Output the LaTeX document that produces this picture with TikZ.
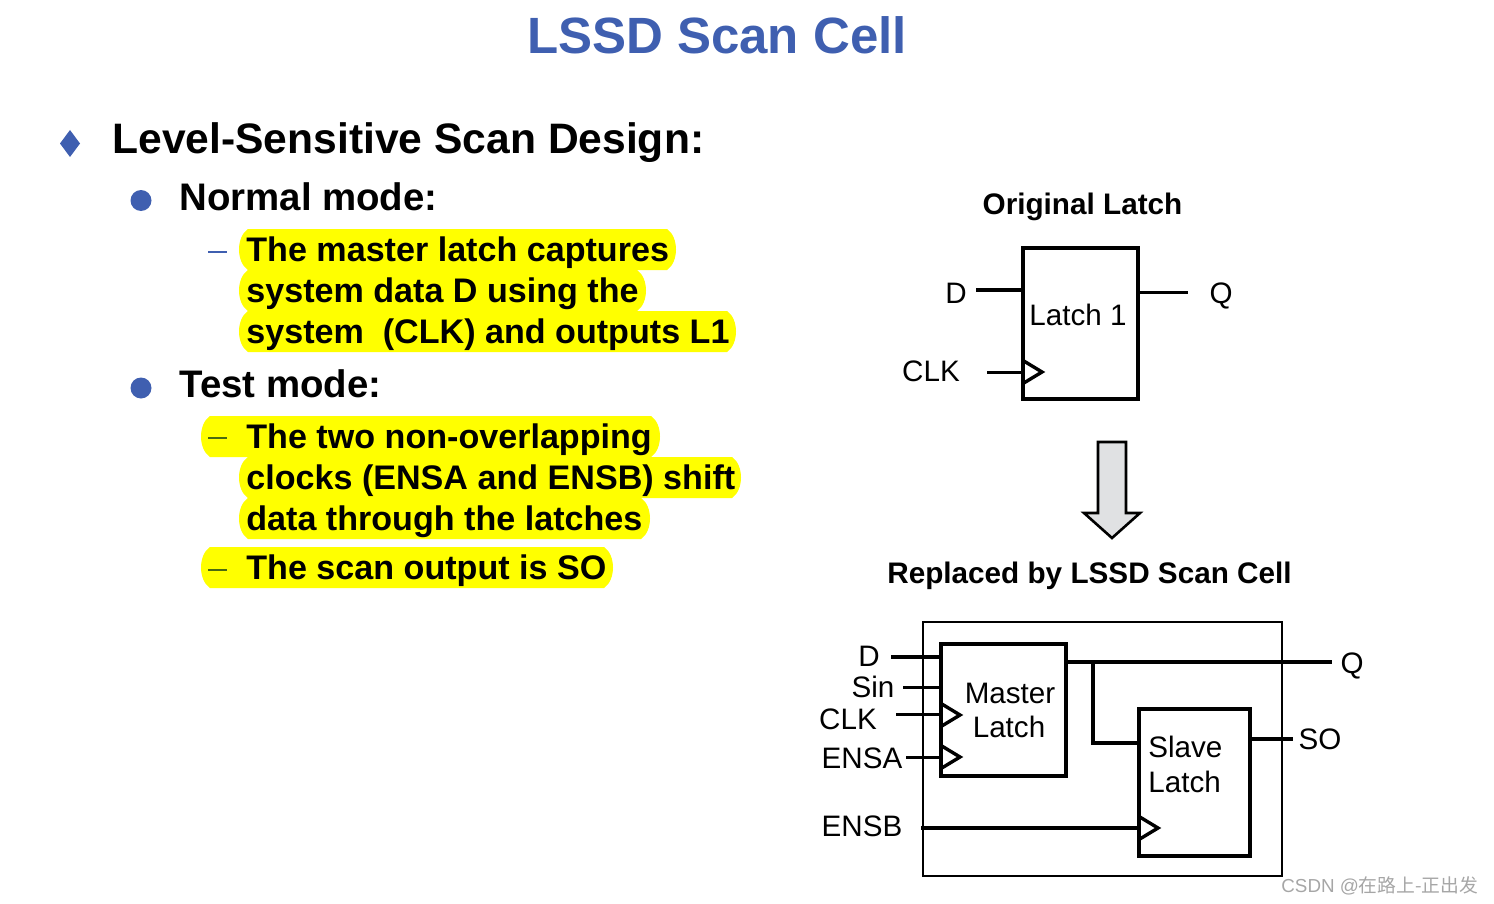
\documentclass[tikz,border=0pt]{standalone}
\usepackage{fontspec}
\setmainfont{Liberation Sans}
\newfontfamily\cjkfont{Noto Sans CJK SC}
\usetikzlibrary{calc}

\definecolor{slideblue}{HTML}{3F5FB0}
\definecolor{dashgreen}{HTML}{4A6A10}
\definecolor{arrowgray}{HTML}{E0E1E3}
\definecolor{hlyellow}{HTML}{FFFF00}

\tikzset{
    titletext/.style={anchor=base, text=slideblue, font=\fontsize{25.5}{30}\selectfont\bfseries},
    headtext/.style={anchor=base west, inner sep=0pt, font=\fontsize{21.3}{25}\selectfont\bfseries},
    subtext/.style={anchor=base west, inner sep=0pt, font=\fontsize{19.2}{23}\selectfont\bfseries},
    itemtext/.style={anchor=base west, inner sep=0pt, font=\fontsize{17.05}{21}\selectfont\bfseries},
    captiontext/.style={anchor=base, font=\fontsize{14.85}{19}\selectfont\bfseries},
    pintext/.style={font=\fontsize{14.8}{19}\selectfont},
    latchbox/.style={draw=black, line width=1.6pt, fill=white, outer sep=0pt, inner sep=0pt},
    wirethick/.style={draw=black, line width=2.2pt},
    wirethin/.style={draw=black, line width=1.5pt},
    clkmark/.style={draw=black, line width=1.7pt, miter limit=10},
}

% one highlighted text line: left x, top y, right x
\newcommand{\hlbar}[3]{\fill[hlyellow] (#1+9,#2) .. controls (#1-3,#2+8) and (#1-3,#2+33) .. (#1+9,#2+41) -- (#3-9,#2+41) .. controls (#3+3,#2+33) and (#3+3,#2+8) .. (#3-9,#2) -- cycle;}
% clock triangle on a box edge: edge x, y of the pin
\newcommand{\clktri}[2]{\draw[clkmark] (#1,#2-11.5) -- (#1+19,#2) -- (#1,#2+11.5);}

\begin{document}
\begin{tikzpicture}[x=0.5pt,y=-0.5pt]
    \useasboundingbox (0,0) rectangle (1494,904);

    \node[titletext] (title) at (717,53.5) {LSSD Scan Cell};

    % bullets
    \fill[slideblue] (70,130) -- (80,143.5) -- (70,157) -- (60,143.5) -- cycle;
    \fill[slideblue] (141,200.5) circle (10.5);
    \fill[slideblue] (141,388) circle (10.5);
    \hlbar{239}{229}{676}
    \hlbar{239}{270}{646}
    \hlbar{239}{311}{736}
    \hlbar{201}{416}{660}
    \hlbar{239}{457}{741}
    \hlbar{239}{498}{650}
    \hlbar{201}{547}{613}
    \draw[slideblue, line width=1pt] (208,252) -- (227,252);
    \draw[dashgreen, line width=1pt] (208,438) -- (227,438);
    \draw[dashgreen, line width=1pt] (208,570) -- (227,570);

    % left text
    \node[headtext] (lssd) at (112,154) {Level-Sensitive Scan Design:};
    \node[subtext] (normal) at (179,210) {Normal mode:};
    \node[itemtext] (line1) at (246,261) {The master latch captures};
    \node[itemtext] (line2) at (246,302) {system data D using the};
    \node[itemtext] (line3) at (246,343) {system \ (CLK) and outputs L1};
    \node[subtext] (test) at (179,397) {Test mode:};
    \node[itemtext] (line4) at (246,448) {The two non-overlapping};
    \node[itemtext] (line5) at (246,489) {clocks (ENSA and ENSB) shift};
    \node[itemtext] (line6) at (246,530) {data through the latches};
    \node[itemtext] (line7) at (246,579) {The scan output is SO};

    % original latch
    \node[captiontext] (origcap) at (1082.5,214) {Original Latch};
    \node[latchbox, minimum width=57.5pt, minimum height=75.5pt] (latch) at (1080.5,323.5) {};
    \node[pintext] (latchname) at (1078,315) {Latch 1};
    \node[pintext] (origD) at (956,293) {D};
    \node[pintext] (origQ) at (1221,296) {Q};
    \node[pintext] (origCLK) at (931,371) {CLK};
    \coordinate (origDend) at (976,290);
    \coordinate (origQend) at (1188,292);
    \coordinate (origCLKend) at (987,372);
    \draw[wirethick] (origDend) -- (latch.west |- origDend);
    \draw[wirethin] (latch.east |- origQend) -- (origQend);
    \draw[wirethin] (origCLKend) -- (latch.west |- origCLKend);
    \clktri{1023}{372}

    % replace arrow
    \filldraw[fill=arrowgray, draw=black, line width=1.3pt] (1098,442) -- (1126,442) -- (1126,513) -- (1140,513) -- (1112,538) -- (1084,513) -- (1098,513) -- cycle;

    % scan cell
    \node[captiontext] (lssdcap) at (1089.5,583) {Replaced by LSSD Scan Cell};
    \node[draw=black, line width=1pt, outer sep=0pt, minimum width=179.5pt, minimum height=127pt] (cell) at (1102.5,749) {};
    \node[latchbox, minimum width=62.5pt, minimum height=66pt] (master) at (1003.5,710) {};
    \node[latchbox, minimum width=55.5pt, minimum height=73.5pt] (slave) at (1194.5,782.5) {};
    \node[pintext] (mastertop) at (1010,693) {Master};
    \node[pintext] (masterbot) at (1009,727) {Latch};
    \node[pintext, anchor=west, inner sep=0pt] (slavetop) at (1148,747) {Slave};
    \node[pintext, anchor=west, inner sep=0pt] (slavebot) at (1148,782) {Latch};
    \node[pintext] (cellD) at (869,656) {D};
    \node[pintext] (cellSin) at (873,687) {Sin};
    \node[pintext] (cellCLK) at (848,719) {CLK};
    \node[pintext] (cellENSA) at (862,758) {ENSA};
    \node[pintext] (cellENSB) at (862,826) {ENSB};
    \node[pintext] (cellQ) at (1352,666) {Q};
    \node[pintext] (cellSO) at (1320,739) {SO};
    \coordinate (cellDend) at (891,657);
    \coordinate (cellSinend) at (903,687);
    \coordinate (cellCLKend) at (896,714);
    \coordinate (cellENSAend) at (906,757);
    \coordinate (cellENSBend) at (921,828);
    \coordinate (cellQend) at (1332,662);
    \coordinate (cellSOend) at (1293,739);
    \coordinate (branch) at (1093,662);
    \coordinate (slavein) at (1093,743);
    \draw[wirethick] (cellDend) -- (master.west |- cellDend);
    \draw[wirethin] (cellSinend) -- (master.west |- cellSinend);
    \draw[wirethin] (cellCLKend) -- (master.west |- cellCLKend);
    \draw[wirethin] (cellENSAend) -- (master.west |- cellENSAend);
    \draw[wirethick] (cellENSBend) -- (slave.west |- cellENSBend);
    \draw[wirethick] (master.east |- cellQend) -- (cellQend);
    \draw[wirethick] (branch) -- (slavein) -- (slave.west |- slavein);
    \draw[wirethick] (slave.east |- cellSOend) -- (cellSOend);
    \clktri{941}{715}
    \clktri{941}{757}
    \clktri{1139}{828}

    \node[text=black!35, anchor=base west, inner sep=0pt, font=\fontsize{9.4}{12}\selectfont] (mark) at (1281,892) {CSDN @{\cjkfont 在路上-正出发}};
\end{tikzpicture}
\end{document}
